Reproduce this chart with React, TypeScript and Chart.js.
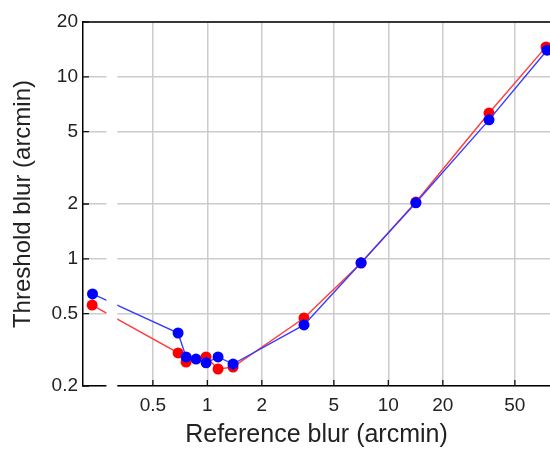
import React, { useEffect, useRef } from 'react';
import { Chart, registerables } from 'chart.js';

Chart.register(...registerables);

// Tick values
const xTickValues = [0.5, 1, 2, 5, 10, 20, 50];
const yTickValues = [0.2, 0.5, 1, 2, 5, 10, 20];

// Axis ranges and the broken-axis gap (in data units)
const xRange = [0.2056, 78.2];
const yRange = [0.2, 20];
const breakRange = [0.277, 0.318];

// Series (reference blur, threshold blur)
const blueX = [0.232, 0.689, 0.763, 0.866, 0.984, 1.146, 1.387, 3.42, 7.07, 14.2, 36.0, 75.3];
const blueY = [0.641, 0.391, 0.289, 0.281, 0.268, 0.289, 0.264, 0.433, 0.95, 2.03, 5.8, 14.0];
const redX = [0.231, 0.689, 0.763, 0.984, 1.146, 1.387, 3.42, 7.07, 14.2, 36.0, 74.3];
const redY = [0.557, 0.304, 0.271, 0.289, 0.248, 0.254, 0.473, 0.948, 2.05, 6.32, 14.6];

const FONT = "'Liberation Sans', Arial, Helvetica, sans-serif";

export default function App() {
  const ref = useRef<HTMLCanvasElement>(null);

  useEffect(() => {
    const canvas = ref.current;
    if (!canvas) return;

    const breakPlugin = {
      id: 'breakAndFrame',
      afterDatasetsDraw(chart: any) {
        const { ctx, chartArea: a, scales } = chart;
        const x0 = scales.x.getPixelForValue(breakRange[0]);
        const x1 = scales.x.getPixelForValue(breakRange[1]);
        ctx.save();
        ctx.fillStyle = '#ffffff';
        ctx.fillRect(x0, a.top + 1, x1 - x0, a.bottom - a.top + 3);
        ctx.strokeStyle = '#000000';
        ctx.lineWidth = 1.5;
        ctx.beginPath();
        ctx.moveTo(a.left - 0.75, a.top);
        ctx.lineTo(a.right, a.top);
        ctx.stroke();
        ctx.lineWidth = 1.3;
        ctx.strokeStyle = '#111111';
        ctx.beginPath();
        for (const v of xTickValues) {
          const px = scales.x.getPixelForValue(v);
          ctx.moveTo(px, a.bottom);
          ctx.lineTo(px, a.bottom - 6);
        }
        for (const v of yTickValues) {
          const py = scales.y.getPixelForValue(v);
          ctx.moveTo(a.left, py);
          ctx.lineTo(a.left + 6, py);
        }
        ctx.stroke();
        ctx.restore();
      },
    };

    const chart = new Chart(canvas, {
      type: 'line',
      data: {
        datasets: [
          {
            label: 'blue',
            data: blueX.map((x, i) => ({ x, y: blueY[i] })),
            borderColor: '#3a3aff',
            backgroundColor: '#0000ff',
            pointBackgroundColor: '#0000ff',
            pointBorderWidth: 0,
            pointRadius: 5.5,
            borderWidth: 1.4,
            tension: 0,
            clip: false,
          },
          {
            label: 'red',
            data: redX.map((x, i) => ({ x, y: redY[i] })),
            borderColor: '#ff3a3a',
            backgroundColor: '#ff0000',
            pointBackgroundColor: '#ff0000',
            pointBorderWidth: 0,
            pointRadius: 5.5,
            borderWidth: 1.4,
            tension: 0,
            clip: false,
          },
        ],
      },
      options: {
        animation: false,
        responsive: false,
        devicePixelRatio: 1,
        layout: { autoPadding: false, padding: { top: 22, right: 0, left: 0, bottom: 0 } },
        plugins: { legend: { display: false }, tooltip: { enabled: false } },
        scales: {
          x: {
            type: 'logarithmic',
            min: xRange[0],
            max: xRange[1],
            afterBuildTicks: (s: any) => {
              s.ticks = xTickValues.map((v) => ({ value: v }));
            },
            afterFit: (s: any) => {
              s.height = 64;
            },
            grid: { color: '#cccccc', lineWidth: 1.5, drawTicks: false },
            border: { display: true, color: '#000000', width: 1.5 },
            ticks: {
              autoSkip: false,
              maxRotation: 0,
              padding: 8,
              color: '#222222',
              font: { family: FONT, size: 19 },
              callback: (v: any) => String(v),
            },
            title: {
              display: true,
              text: 'Reference blur (arcmin)',
              color: '#222222',
              font: { family: FONT, size: 25 },
              padding: { top: 0, bottom: 0 },
            },
          },
          y: {
            type: 'logarithmic',
            min: yRange[0],
            max: yRange[1],
            afterBuildTicks: (s: any) => {
              s.ticks = yTickValues.map((v) => ({ value: v }));
            },
            afterFit: (s: any) => {
              s.width = 83;
            },
            grid: { color: '#cccccc', lineWidth: 1.5, drawTicks: false },
            border: { display: true, color: '#000000', width: 1.5 },
            ticks: {
              autoSkip: false,
              padding: 5,
              color: '#222222',
              font: { family: FONT, size: 19 },
              callback: (v: any) => String(v),
            },
            title: {
              display: true,
              text: 'Threshold blur (arcmin)',
              color: '#222222',
              font: { family: FONT, size: 24 },
              padding: { top: 9, bottom: 0 },
            },
          },
        },
      },
      plugins: [breakPlugin],
    } as any);

    return () => chart.destroy();
  }, []);

  return (
    <div style={{ position: 'fixed', left: 0, top: 0, width: 550, height: 450, background: '#fff' }}>
      <canvas ref={ref} width={550} height={450} style={{ display: 'block', width: 550, height: 450 }} />
    </div>
  );
}
